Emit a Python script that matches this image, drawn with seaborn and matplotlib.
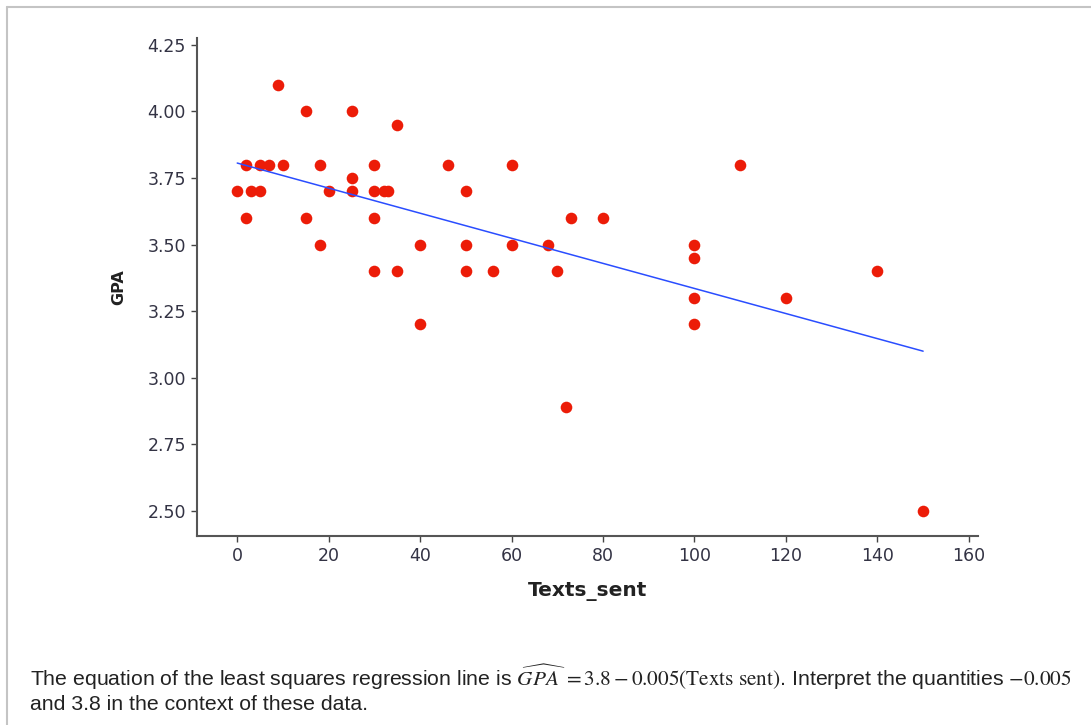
import numpy as np
import pandas as pd
import matplotlib.pyplot as plt
import seaborn as sns
from matplotlib.lines import Line2D

# Data
texts_sent = [0, 3, 5, 20, 25, 30, 32, 33, 50,
              2, 5, 7, 10, 18, 30, 46, 60, 110,
              2, 15, 30, 73, 80,
              9, 15, 25, 35, 25,
              18, 40, 50, 60, 68, 100,
              100,
              30, 35, 50, 56, 70, 140,
              100, 120,
              40, 100,
              72, 150]
gpa = [3.7, 3.7, 3.7, 3.7, 3.7, 3.7, 3.7, 3.7, 3.7,
       3.8, 3.8, 3.8, 3.8, 3.8, 3.8, 3.8, 3.8, 3.8,
       3.6, 3.6, 3.6, 3.6, 3.6,
       4.1, 4.0, 4.0, 3.95, 3.75,
       3.5, 3.5, 3.5, 3.5, 3.5, 3.5,
       3.45,
       3.4, 3.4, 3.4, 3.4, 3.4, 3.4,
       3.3, 3.3,
       3.2, 3.2,
       2.89, 2.5]
x_ticks = [0, 20, 40, 60, 80, 100, 120, 140, 160]
y_ticks = [2.50, 2.75, 3.00, 3.25, 3.50, 3.75, 4.00, 4.25]

df = pd.DataFrame({"Texts_sent": texts_sent, "GPA": gpa})

sns.set_style("white")
plt.rcParams["font.family"] = ["DejaVu Sans"]
plt.rcParams["mathtext.fontset"] = "stix"

fig = plt.figure(figsize=(10.91, 7.25), dpi=100)
ax = fig.add_axes([197 / 1091, 1 - 536 / 725, (978 - 197) / 1091, (536 - 38) / 725])

sns.regplot(data=df, x="Texts_sent", y="GPA", ax=ax, ci=None, truncate=True,
            scatter_kws={"s": 70, "color": "#ec1c08", "linewidths": 0, "alpha": 1, "zorder": 3},
            line_kws={"color": "#2a4dff", "linewidth": 1.1, "zorder": 4})

ax.set_xlim(-8.8, 162)
ax.set_ylim(2.406, 4.275)
ax.set_xticks(x_ticks)
ax.set_yticks(y_ticks)
ax.set_xticklabels([str(t) for t in x_ticks], fontsize=12.5, color="#333344")
ax.set_yticklabels([f"{t:.2f}" for t in y_ticks], fontsize=12.5, color="#333344")
ax.tick_params(axis="both", direction="out", length=4, width=1, color="#444444",
               bottom=True, left=True, pad=4)
sns.despine(ax=ax)
for side in ["left", "bottom"]:
    ax.spines[side].set_color("#555555")
    ax.spines[side].set_linewidth(1.5)

ax.set_xlabel("Texts_sent", fontsize=14.5, fontweight="bold", color="#222222", labelpad=12)
ax.set_ylabel("GPA", fontsize=11.5, fontweight="bold", color="#222222", labelpad=0)
ax.yaxis.set_label_coords(-0.09, 0.5)

# caption under the chart
cap_font = ["Liberation Sans"]
fig.text(30 / 1091, 1 - 677 / 725,
         r"The equation of the least squares regression line is $\widehat{GPA}\ = 3.8 - 0.005(\mathrm{Texts\ sent})$."
         r" Interpret the quantities $-0.005$",
         fontsize=15.3, color="#222222", va="center", family=cap_font)
fig.text(30 / 1091, 1 - 705 / 725, "and 3.8 in the context of these data.",
         fontsize=15.3, color="#222222", va="center", family=cap_font)

# screenshot frame
fig.add_artist(Line2D([7 / 1091, 1], [1 - 7 / 725, 1 - 7 / 725], transform=fig.transFigure,
                      color="#c4c4c4", linewidth=1.5))
fig.add_artist(Line2D([7 / 1091, 7 / 1091], [0, 1 - 7 / 725], transform=fig.transFigure,
                      color="#c4c4c4", linewidth=1.5))

fig.savefig("out.png", dpi=100)
